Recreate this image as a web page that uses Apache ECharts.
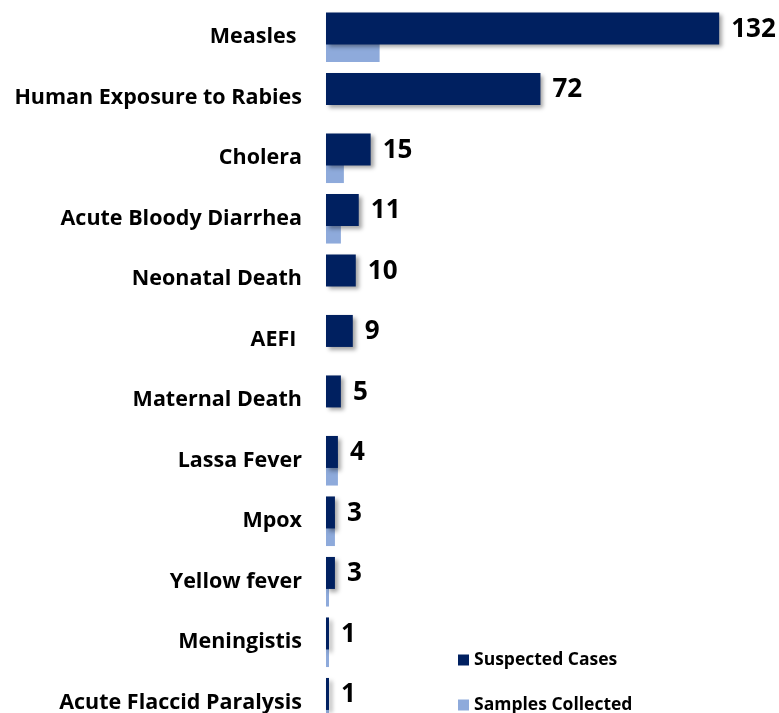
<!DOCTYPE html>
<html>
<head>
<meta charset="utf-8">
<script src="https://cdn.jsdelivr.net/npm/echarts@6/dist/echarts.min.js"></script>
<style>
  html, body { margin: 0; padding: 0; background: #fff; }
  #chart { width: 779px; height: 713px; }
</style>
</head>
<body>
<div id="chart"></div>
<script>
// data
const categories = ['Measles ', 'Human Exposure to Rabies', 'Cholera', 'Acute Bloody Diarrhea',
    'Neonatal Death', 'AEFI ', 'Maternal Death', 'Lassa Fever', 'Mpox', 'Yellow fever',
    'Meningistis', 'Acute Flaccid Paralysis']
const suspectedCases = [132, 72, 15, 11, 10, 9, 5, 4, 3, 3, 1, 1]
const samplesCollected = [18, 0, 6, 5, 0, 0, 0, 4, 3, 1, 1, 1]

const FONT = '"Open Sans", "Segoe UI", sans-serif'

// one legend per entry, stacked by hand (a vertical legend wraps near the bottom edge)
const legendText = {
    fontFamily: FONT,
    fontSize: 17.5,
    fontWeight: 'bold',
    color: '#000',
    lineHeight: 17
}
const makeLegend = (name, top) => ({
    left: 458,
    top: top,
    padding: 0,
    itemWidth: 11,
    itemHeight: 11,
    icon: 'rect',
    data: [name],
    itemStyle: { shadowBlur: 0, shadowOffsetX: 0, shadowOffsetY: 0 },
    textStyle: legendText
})

const myChart = echarts.init(document.getElementById('chart'))
myChart.setOption({
    animation: false,
    textStyle: { fontFamily: FONT },
    grid: {
        left: 326,
        right: 36,
        top: 7,
        bottom: -20,   // last row is cut off at the bottom in the original
        outerBoundsMode: 'none'
    },
    legend: [
        makeLegend('Suspected Cases', 651),
        makeLegend('Samples Collected', 696)
    ],
    xAxis: {
        type: 'value',
        min: 0,
        max: 140,
        show: false
    },
    yAxis: {
        type: 'category',
        inverse: true,
        data: categories,
        axisLine: { show: false },
        axisTick: { show: false },
        axisLabel: {
            margin: 24,
            fontFamily: FONT,
            fontSize: 21.5,
            fontWeight: 'bold',
            color: '#000'
        }
    },
    series: [
        {
            name: 'Suspected Cases',
            type: 'bar',
            data: suspectedCases,
            barWidth: 32,
            barGap: '-45%',
            z: 3,
            itemStyle: {
                color: '#002060',
                shadowColor: 'rgba(0,0,0,0.35)',
                shadowBlur: 4,
                shadowOffsetX: 3,
                shadowOffsetY: 3
            },
            label: {
                show: true,
                position: 'right',
                distance: 12,
                offset: [0, 1],
                fontFamily: FONT,
                fontSize: 26,
                fontWeight: 'bold',
                color: '#000'
            }
        },
        {
            name: 'Samples Collected',
            type: 'bar',
            data: samplesCollected,
            barWidth: 32,
            z: 2,
            itemStyle: { color: '#8eaadb' }
        }
    ]
})
</script>
</body>
</html>
